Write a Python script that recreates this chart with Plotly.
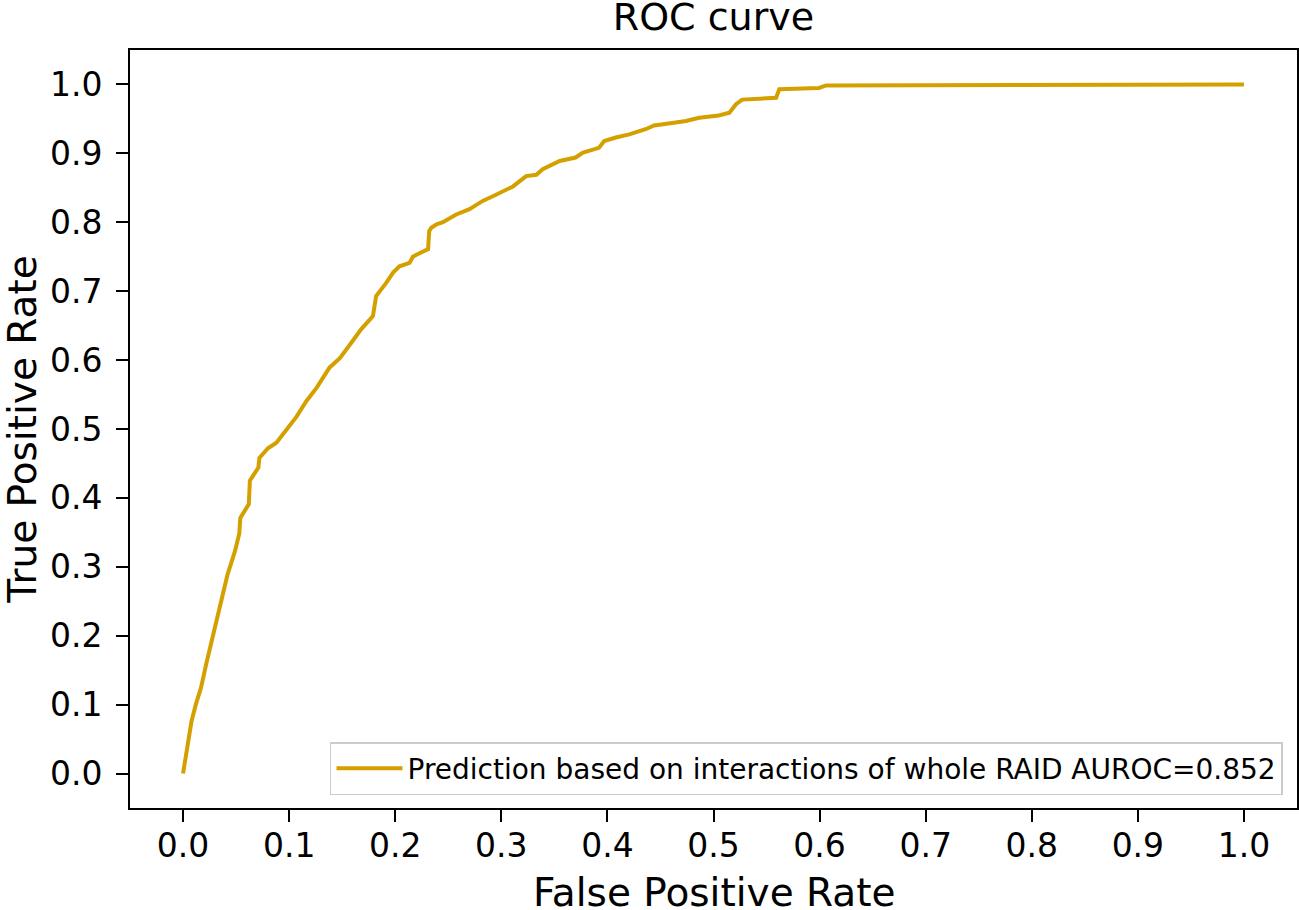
import plotly.graph_objects as go

fpr = [0, 0.004, 0.008, 0.012, 0.017, 0.022, 0.027, 0.031, 0.035, 0.042, 0.049, 0.053, 0.054,
       0.062, 0.063, 0.071, 0.072, 0.080, 0.088, 0.096, 0.107, 0.116, 0.126, 0.138, 0.148,
       0.160, 0.168, 0.179, 0.182, 0.1915, 0.198, 0.204, 0.2135, 0.2166, 0.220, 0.231, 0.232,
       0.234, 0.239, 0.245, 0.257, 0.270, 0.2825, 0.295, 0.311, 0.3234, 0.333, 0.339, 0.355,
       0.370, 0.377, 0.392, 0.397, 0.408, 0.4206, 0.436, 0.444, 0.461, 0.474, 0.4865, 0.505,
       0.515, 0.521, 0.527, 0.559, 0.562, 0.5995, 0.606, 0.628, 0.89, 0.89, 1.0]
tpr = [0, 0.04, 0.076, 0.10, 0.125, 0.16, 0.193, 0.22, 0.246, 0.289, 0.323, 0.348, 0.371,
       0.391, 0.425, 0.444, 0.458, 0.472, 0.480, 0.496, 0.518, 0.540, 0.560, 0.589, 0.603,
       0.628, 0.645, 0.664, 0.693, 0.712, 0.727, 0.736, 0.741, 0.750, 0.753, 0.761, 0.787,
       0.792, 0.797, 0.800, 0.811, 0.819, 0.831, 0.840, 0.852, 0.867, 0.869, 0.877, 0.889,
       0.894, 0.901, 0.908, 0.918, 0.923, 0.9275, 0.935, 0.9405, 0.944, 0.947, 0.9516, 0.955,
       0.959, 0.971, 0.978, 0.9806, 0.993, 0.995, 0.9986, 0.9986, 0.9986, 1.0, 1.0]
tick_vals = [0.0, 0.1, 0.2, 0.3, 0.4, 0.5, 0.6, 0.7, 0.8, 0.9, 1.0]
tick_text = ["0.0", "0.1", "0.2", "0.3", "0.4", "0.5", "0.6", "0.7", "0.8", "0.9", "1.0"]
series_name = "Prediction based on interactions of whole RAID AUROC=0.852"
x_title = "False Positive Rate"
y_title = "True Positive Rate"
chart_title = "ROC curve"

fig = go.Figure()
fig.add_trace(go.Scatter(x=fpr, y=tpr, mode="lines", name=series_name,
                         line=dict(color="#D4A000", width=4)))

font = "DejaVu Sans, sans-serif"
axis_common = dict(
    range=[-0.05, 1.05], tickvals=tick_vals, ticktext=tick_text,
    showgrid=False, zeroline=False, showline=True, linecolor="black", linewidth=2,
    mirror=True, ticks="outside", ticklen=12, tickwidth=2, tickcolor="black",
    tickfont=dict(family=font, size=33, color="black"), automargin=False,
)
fig.update_xaxes(**axis_common, ticklabelstandoff=-5)
fig.update_yaxes(**axis_common, ticklabelstandoff=7,
                 title=dict(text=y_title,
                            font=dict(family=font, size=39, color="black"), standoff=4))

fig.add_annotation(text=x_title, xref="paper", yref="paper", x=0.5, y=0,
                   xanchor="center", yanchor="middle", yshift=-84, showarrow=False,
                   font=dict(family=font, size=39, color="black"))

fig.update_layout(
    width=1299, height=910,
    paper_bgcolor="white", plot_bgcolor="white",
    margin=dict(l=130, r=2, t=50, b=102, autoexpand=False),
    title=dict(text=chart_title, xref="paper", x=0.5, xanchor="center",
               yref="container", y=1 - 17 / 910, yanchor="middle", automargin=False,
               font=dict(family=font, size=38, color="black")),
    showlegend=True,
    legend=dict(x=0.988, y=0.017, xanchor="right", yanchor="bottom",
                bgcolor="white", bordercolor="#cccccc", borderwidth=1.5, itemwidth=66,
                font=dict(family=font, size=28, color="black")),
)

fig.write_html("out.html", config={"displayModeBar": False},
               post_script="document.body.style.margin='0px';")
